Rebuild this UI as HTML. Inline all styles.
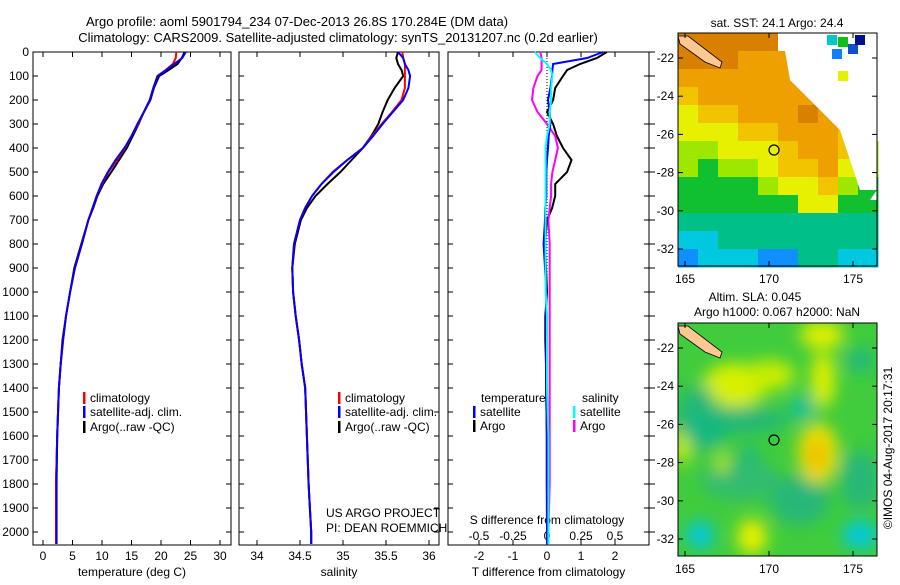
<!DOCTYPE html>
<html><head><meta charset="utf-8"><style>
body{margin:0;background:#fff;width:900px;height:580px;overflow:hidden}
svg{font-family:"Liberation Sans",sans-serif;font-size:12px}
</style></head><body>
<svg id="s" width="900" height="580" xmlns="http://www.w3.org/2000/svg">
<text x="297" y="26" text-anchor="middle" font-size="13">Argo profile: aoml 5901794_234 07-Dec-2013 26.8S 170.284E (DM data)</text>
<text x="338" y="42" text-anchor="middle" font-size="13">Climatology: CARS2009. Satellite-adjusted climatology: synTS_20131207.nc (0.2d earlier)</text>
<g id="g"></g>
</svg>
<script>
const NS="http://www.w3.org/2000/svg";
const G=document.getElementById('g');
function el(t,a,p){const e=document.createElementNS(NS,t);for(const k in a)e.setAttribute(k,a[k]);(p||G).appendChild(e);return e;}

// ---- data ----
const depths=[0,25,50,75,100,150,200,250,300,350,400,450,500,550,600,650,700,800,900,1000,1100,1200,1300,1400,1600,1800,2000,2050];
const tempClim=[22.6,22.5,22.0,20.8,19.4,18.7,18.1,17.1,16.1,15.0,13.9,12.5,11.1,10.0,9.1,8.4,7.7,6.6,5.4,4.6,3.9,3.4,3.0,2.7,2.4,2.2,2.2,2.2];
const tempSat=[24.2,23.6,22.2,20.9,19.4,18.7,18.1,17.1,16.0,15.0,13.8,12.3,11.0,9.9,9.1,8.4,7.7,6.6,5.4,4.6,3.9,3.4,3.0,2.7,2.4,2.3,2.3,2.3];
const tempArgo=[24.0,23.5,22.8,21.3,19.7,18.8,18.2,17.1,16.2,15.2,14.2,12.9,11.6,10.2,9.2,8.5,7.7,6.5,5.3,4.6,3.9,3.3,3.0,2.7,2.4,2.2,2.2,2.2];
const salClim=[35.69,35.70,35.72,35.72,35.72,35.72,35.68,35.57,35.45,35.34,35.23,35.05,34.88,34.75,34.64,34.56,34.50,34.43,34.41,34.42,34.45,34.49,34.52,34.56,34.58,34.60,34.63,34.63];
const salSat=[35.64,35.70,35.72,35.76,35.78,35.76,35.70,35.58,35.46,35.35,35.23,35.05,34.89,34.75,34.64,34.56,34.50,34.43,34.41,34.42,34.45,34.49,34.52,34.56,34.58,34.60,34.63,34.63];
const salArgo=[35.64,35.62,35.64,35.68,35.70,35.60,35.52,35.46,35.41,35.33,35.23,35.10,34.97,34.82,34.68,34.58,34.51,34.44,34.41,34.42,34.45,34.49,34.52,34.56,34.58,34.60,34.63,34.63];
const dTArgo=[1.76,1.47,0.97,0.59,0.47,0.24,0.18,0.0,0.18,0.29,0.47,0.72,0.59,0.24,0.24,0.15,0.0,-0.06,-0.03,0,-0.05,-0.05,-0.03,-0.03,0,0,0,0];
const dTSat=[1.65,1.18,0.18,0.16,0.15,0.10,0.03,0.08,0.10,0.05,0.03,0.0,-0.02,-0.02,-0.02,-0.05,-0.06,-0.10,-0.06,-0.02,-0.03,-0.02,-0.02,-0.02,-0.01,-0.01,0,0];
const dSArgo=[-0.05,-0.04,-0.04,-0.04,-0.07,-0.10,-0.11,-0.07,0.0,0.06,0.08,0.06,0.04,0.03,0.03,0.02,0.01,0.02,0.02,0.02,0.02,0.02,0.02,0.02,0.02,0.02,0.01,0.01];
const dSSat=[-0.09,-0.05,0.0,0.03,0.04,0.03,0.03,0.02,0.02,0.0,-0.01,-0.01,-0.01,-0.01,-0.01,-0.01,-0.01,-0.01,-0.01,-0.01,0,0,0,0,0.01,0.01,0.01,0.01];
const depthTicks=[0,100,200,300,400,500,600,700,800,900,1000,1100,1200,1300,1400,1500,1600,1700,1800,1900,2000];
const tempTicks=[0,5,10,15,20,25,30];
const salTicks=[34,34.5,35,35.5,36];
const dTTicks=[-2,-1,0,1,2];
const dSTicks=[-0.5,-0.25,0,0.25,0.5];

// ---- axes ----
const yD=d=>52+0.24*d;
const xT=t=>43+5.9*t;
const xS=s=>257+86*(s-34);
const xdT=v=>547+34*v;
const xdS=v=>547+136*v;

function frame(x0,x1,name,xt,xf,labels,title){
  const f=el('rect',{x:x0,y:52,width:x1-x0,height:493,fill:'none',stroke:'#000','stroke-width':1});
  
  depthTicks.forEach(d=>{el('line',{x1:x0,x2:x0+5,y1:yD(d),y2:yD(d),stroke:'#000'});el('line',{x1:x1,x2:x1-5,y1:yD(d),y2:yD(d),stroke:'#000'});});
  xt.forEach((v,i)=>{const x=xf(v);el('line',{x1:x,x2:x,y1:52,y2:57,stroke:'#000'});el('line',{x1:x,x2:x,y1:545,y2:540,stroke:'#000'});
    if(labels){const t=el('text',{x:x,y:560,'text-anchor':'middle'});t.textContent=labels[i];}});
  const t=el('text',{x:(x0+x1)/2,y:576,'text-anchor':'middle'});t.textContent=title;
  
}
frame(33,231,'temperature',tempTicks,xT,tempTicks.map(String),'temperature (deg C)');
frame(239,439,'salinity',salTicks,xS,salTicks.map(String),'salinity');
frame(448,649,'difference',dTTicks,xdT,dTTicks.map(String),'T difference from climatology');
depthTicks.forEach(d=>{const t=el('text',{x:29,y:yD(d)+4,'text-anchor':'end'});t.textContent=d;
  el('line',{x1:649,x2:655,y1:yD(d),y2:yD(d),stroke:'#000'});});
dSTicks.forEach(v=>{const t=el('text',{x:xdS(v),y:540,'text-anchor':'middle'});t.textContent=String(v);});
{const t=el('text',{x:547,y:524,'text-anchor':'middle'});t.textContent='S difference from climatology';}
el('line',{x1:xdT(0),x2:xdT(0),y1:52,y2:545,stroke:'#000','stroke-dasharray':'1,2'});

function line(xs,xf,col,name){
  const pts=xs.map((v,i)=>xf(v).toFixed(1)+','+yD(depths[i]).toFixed(1)).join(' ');
  const p=el('polyline',{points:pts,fill:'none',stroke:col,'stroke-width':2});
  
}
line(tempArgo,xT,'#000','temp-argo-line');line(tempClim,xT,'#f00','temp-clim-line');line(tempSat,xT,'#00f','temp-sat-line');
line(salArgo,xS,'#000','sal-argo-line');line(salClim,xS,'#f00','sal-clim-line');line(salSat,xS,'#00f','sal-sat-line');
line(dTArgo,xdT,'#000','tdiff-argo-line');line(dSArgo,xdS,'#f0f','sdiff-argo-line');line(dTSat,xdT,'#00f','tdiff-sat-line');line(dSSat,xdS,'#0ff','sdiff-sat-line');

function leg(x,y,col,txt,name){el('rect',{x:x,y:y-6,width:2.5,height:12,fill:col});const t=el('text',{x:x+7,y:y+4});t.textContent=txt;}
[[83],[338]].forEach(([x],k)=>{const p=k?'sal':'temp';leg(x,398,'#f00','climatology',p+'-legend-climatology');leg(x,412,'#00f','satellite-adj. clim.',p+'-legend-satellite');leg(x,427,'#000','Argo(..raw -QC)',p+'-legend-argo');});
{let t=el('text',{x:481,y:402});t.textContent='temperature';
 t=el('text',{x:582,y:402});t.textContent='salinity';}
leg(473,412,'#00f','satellite','diff-legend-t-satellite');leg(473,426,'#000','Argo','diff-legend-t-argo');
leg(573,412,'#0ff','satellite','diff-legend-s-satellite');leg(573,426,'#f0f','Argo','diff-legend-s-argo');
{let t=el('text',{x:326,y:517});t.textContent='US ARGO PROJECT';
 t=el('text',{x:326,y:532});t.textContent='PI: DEAN ROEMMICH';}

// ---- maps ----
const C={O:'#d98000',o:'#eea000',Y:'#f2c400',y:'#e6f000',L:'#9ee800',G:'#10c030',T:'#00c088',C:'#00c8e0',B:'#1090ff',W:'#fff'};
const sstRows=["OOOOOWWWWW","OOOoooWWWW","ooooooWWWW","Yoooooo0WW","yYYoooOoWW","yyyYYoooYW","LLyyyYooYL","LGLLyYYoyL","GGGGLyyYLG","GGGGGGyyGG","TTTTTTTTTT","CCTTTTTTTT","BCCCBBTTCC"];
function mapFrame(y0,name){
  const W=199,H=233;
  const r=el('rect',{x:678,y:y0,width:W,height:H,fill:'none',stroke:'#000'});
  [-22,-24,-26,-28,-30,-32].forEach(l=>{const y=y0+25+(-22-l)*19.1;el('line',{x1:877,x2:872,y1:y,y2:y,stroke:'#000'});el('line',{x1:678,x2:683,y1:y,y2:y,stroke:'#000'});
    const t=el('text',{x:674,y:y+4,'text-anchor':'end'});t.textContent=l;});
  [165,170,175].forEach(lo=>{const x=685+(lo-165)*16.8;el('line',{x1:x,x2:x,y1:y0+H,y2:y0+H-5,stroke:'#000'});el('line',{x1:x,x2:x,y1:y0,y2:y0+5,stroke:'#000'});
    const t=el('text',{x:x,y:y0+H+17,'text-anchor':'middle'});t.textContent=lo;});
}
const mg=el('g',{});
sstRows.forEach((row,i)=>{[...row].forEach((c,j)=>{const col=C[c]||C.o;el('rect',{x:678+j*20,y:33+i*18,width:20.5,height:18.5,fill:col},mg);});});
// diagonal white edge
el('polygon',{points:'782,33 877,33 877,190 860,190 840,130 810,100 790,80',fill:'#fff'},mg);
el('polygon',{points:'877,190 877,200 870,200',fill:'#fff'},mg);
[[827,35,'#00c8c8'],[838,37,'#10c010'],[848,44,'#1050d0'],[855,35,'#001090'],[832,49,'#1080ff'],[838,71,'#e6f000']].forEach(([x,y,c])=>el('rect',{x:x,y:y,width:10,height:10,fill:c},mg));
el('polygon',{points:'678,36 688,36 722,62 720,68 705,62 680,44',fill:'#ffc890',stroke:'#000','stroke-width':0.8},mg);
// SLA map
const sm=el('g',{});
el('defs',{}).innerHTML='<filter id="bl" x="-50%" y="-50%" width="200%" height="200%"><feGaussianBlur stdDeviation="8"/></filter><clipPath id="cp"><rect x="678" y="323" width="199" height="233"/></clipPath>';
const sg=el('g',{'clip-path':'url(#cp)'},sm);
el('rect',{x:678,y:323,width:199,height:233,fill:'#40cc3c'},sg);
const bl=el('g',{filter:'url(#bl)'},sg);
[[730,420,60,14,'#20b878'],[740,480,40,20,'#30bc70'],[800,500,30,25,'#28b878'],[860,480,20,30,'#28b878'],[735,385,32,22,'#d8f000'],[770,375,25,15,'#c8ee00'],[822,335,22,14,'#e0f000'],[823,380,12,28,'#e0f000'],[818,453,20,30,'#f0e000'],[817,455,9,16,'#f0b800'],[752,537,15,18,'#e8f000'],[682,447,8,18,'#d8f000'],[722,462,6,12,'#c0ec00'],[705,430,22,20,'#18b880'],[697,400,18,14,'#20b878'],[700,535,14,14,'#00c8e0'],[860,535,18,14,'#00c8e0'],[802,408,12,12,'#10c0a0'],[860,360,14,12,'#20b880'],[750,455,10,10,'#20b880']].forEach(([x,y,rx,ry,c])=>el('ellipse',{cx:x,cy:y,rx:rx,ry:ry,fill:c},bl));
el('polygon',{points:'678,326 688,326 722,352 720,358 705,352 680,334',fill:'#ffc890',stroke:'#000','stroke-width':0.8},sm);
mapFrame(33,'sst-map');mapFrame(323,'sla-map');
[[150],[440]].forEach(([y])=>{el('circle',{cx:774,cy:y,r:5,fill:'none',stroke:'#000','stroke-width':1.2});});
{let t=el('text',{x:777,y:27,'text-anchor':'middle'});t.textContent='sat. SST: 24.1  Argo: 24.4';
 t=el('text',{x:755,y:301,'text-anchor':'middle'});t.textContent='Altim. SLA: 0.045';
 t=el('text',{x:777,y:316,'text-anchor':'middle'});t.textContent='Argo h1000: 0.067 h2000: NaN';
 t=el('text',{x:0,y:0,'text-anchor':'middle',transform:'translate(892,448) rotate(-90)'});t.textContent='©IMOS 04-Aug-2017 20:17:31';}
</script>
</body></html>
